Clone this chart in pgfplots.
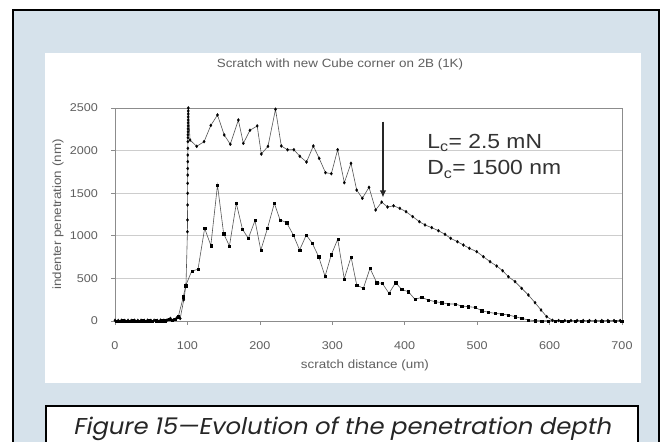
\documentclass[border=0pt]{standalone}
\usepackage{pgfplots}
\pgfplotsset{compat=1.18}
\usepackage{pgfplotstable}
\usetikzlibrary{arrows.meta}
\usepackage{fontspec}
\setmainfont{Liberation Sans}[FakeStretch=1.12]
\newfontfamily\capfont{Poppins}[FakeSlant=0.2, FakeStretch=1.06]

\definecolor{panelblue}{RGB}{214,226,235}
\definecolor{labelgray}{RGB}{95,95,95}
\definecolor{gridgray}{RGB}{205,205,205}
\definecolor{framegray}{RGB}{140,140,140}
\definecolor{linegray}{RGB}{85,85,85}

% scratch run: penetration at the critical load (upper) and residual depth (lower)
\pgfplotstableread{
x y
0 8
4.5 6
9 8
13.5 6
18 8
22.5 6
27 8
31.5 7
36 8
40.5 6
45 9
49.5 7
54 8
58.5 6
63 10
67.5 8
72 12
76.5 30
81 14
85.5 38
90 30
95 250
98 420
100 1048
100.1 1186
100.2 1362
100.3 1499
100.3 1616
100.4 1713
100.4 1790
100.5 1870
100.5 1948
100.6 2027
100.6 2105
100.7 2150
100.7 2185
100.8 2220
100.8 2255
100.9 2290
100.9 2325
101 2360
101 2395
101.1 2430
101.1 2465
101.2 2500
103.6 2124
112.8 2050
123 2105
132.3 2296
141.5 2418
150.8 2183
159.2 2075
170.3 2359
177.2 2085
186.3 2238
196.3 2289
202 1960
211.2 2050
221.6 2485
229.6 2054
238.2 2010
247 2010
255.2 1933
264.4 1866
273.8 2054
281.9 1909
290.6 1741
298.7 1729
307.4 2011
316.6 1623
325.8 1851
333.7 1537
341.5 1440
350.7 1569
359.9 1303
368.2 1395
376.3 1338
384.6 1352
393.3 1322
401.8 1283
411 1225
420.2 1166
428 1127
437.3 1096
446.5 1060
455.7 1017
463.5 970
472.7 931
481 892
489.3 853
499.4 814
508.6 755
517.8 696
527 645
535.2 590
543.1 520
552.3 462
561.5 383
570.7 305
579.9 215
588.2 129
596 51
604 8
612.5 5
621 5
629.5 5
638 5
646.5 5
655 5
663.5 5
672 5
680.5 5
689 5
697.5 5
}\upperdata

\pgfplotstableread{
x y
2.2 3
6.7 2
11.2 4
15.7 3
20.2 2
24.7 4
29.2 3
33.7 2
38.2 4
42.7 3
47.2 5
51.7 3
56.2 4
60.7 3
65.2 5
69.7 4
74.2 20
78.7 8
83.2 25
87.4 51
94.4 286
97.6 415
105.9 585
114.6 608
123.8 1088
132.3 886
141.5 1596
150 1025
158 880
167.5 1381
176 1076
184.1 970
193.3 1180
201.3 830
210.5 1088
220 1381
227.8 1188
237 1154
246.2 1009
254.9 833
264.1 1009
272.2 915
281.2 755
290 524
298.7 780
307.5 959
316.5 495
325.9 752
333.7 423
342.9 383
352.1 618
361.3 450
369.1 442
378.3 325
387.5 450
395.8 370
405 344
414.2 254
423.4 278
432.6 246
441.8 227
451 215
460.2 200
469.4 200
478.6 176
487.8 168
497 160
506.2 121
515.4 102
524.6 90
533.8 82
543 70
552.2 51
561.4 31
570.6 12
579.8 4
589 3
598.2 3
607.4 2
616.6 2
625.8 2
635 2
644.2 2
653.4 2
662.6 2
671.8 2
681 2
690.2 2
699.4 2
}\lowerdata

\begin{document}
\begin{tikzpicture}[x=1bp,y=1bp]
\useasboundingbox (0,0) rectangle (671,442);
\clip (0,0) rectangle (671,442);
\fill[white] (0,0) rectangle (671,442);
% framed panel
\fill[panelblue] (13,-20) rectangle (659,432);
\draw[black, line width=2.2bp] (13,-20) rectangle (659,432);
% chart area
\fill[white] (45,59) rectangle (641,389);
% caption box
\filldraw[fill=white, draw=black, line width=2.6bp] (46,-20) rectangle (638,36);
\node[font=\capfont\fontsize{23}{27}\selectfont, text=black!85, anchor=base, inner sep=0pt]
  at (342,7) {Figure 15—Evolution of the penetration depth};

\begin{axis}[
  at={(115bp,121bp)}, anchor=south west,
  scale only axis, width=507bp, height=213bp,
  xmin=0, xmax=700, ymin=0, ymax=2500,
  xtick={0,100,...,700}, ytick={0,500,...,2500},
  /pgf/number format/assume math mode=true,
  /pgf/number format/1000 sep={},
  tick label style={font=\fontsize{11.3}{13}\selectfont, text=labelgray},
  xticklabel style={anchor=north, inner sep=0pt, yshift=-16bp},
  yticklabel style={anchor=east, inner sep=0pt, xshift=-13bp},
  tick align=outside, major tick length=4bp,
  xtick pos=bottom, ytick pos=left,
  tick style={framegray, line width=0.6bp},
  axis line style={framegray, line width=0.7bp},
  ymajorgrids, grid style={gridgray, line width=0.7bp},
  xlabel={scratch distance (um)},
  ylabel={indenter penetration (nm)},
  label style={font=\fontsize{12}{14}\selectfont, text=labelgray},
  xlabel style={at={(axis description cs:0.493,-0.2066)}, anchor=center},
  ylabel style={at={(axis description cs:-0.1124,0.5)}, anchor=center},
  title={Scratch with new Cube corner on 2B (1K)},
  title style={at={(axis description cs:0.4438,1.178)}, anchor=center,
    font=\fontsize{12}{14}\selectfont, text=labelgray},
  clip=false,
]
\addplot[linegray, line width=0.6bp, mark=diamond*, mark size=1.6bp,
  mark options={black, fill=black, line width=0.2bp}] table[x=x,y=y] {\upperdata};
\addplot[linegray, line width=0.6bp, mark=square*, mark size=1.1bp,
  mark options={black, fill=black, line width=0.2bp}] table[x=x,y=y] {\lowerdata};
\draw[-{Latex[length=7bp,width=6.5bp]}, line width=1.3bp, black!85]
  (axis cs:370,2340) -- (axis cs:370,1450);
\node[anchor=base west, font=\fontsize{20.5}{24}\selectfont, text=black!80, inner sep=0pt]
  at (axis cs:431,2030) {L\textsubscript{c}= 2.5 mN};
\node[anchor=base west, font=\fontsize{20.5}{24}\selectfont, text=black!80, inner sep=0pt]
  at (axis cs:431,1714) {D\textsubscript{c}= 1500 nm};
\end{axis}
\end{tikzpicture}
\end{document}
